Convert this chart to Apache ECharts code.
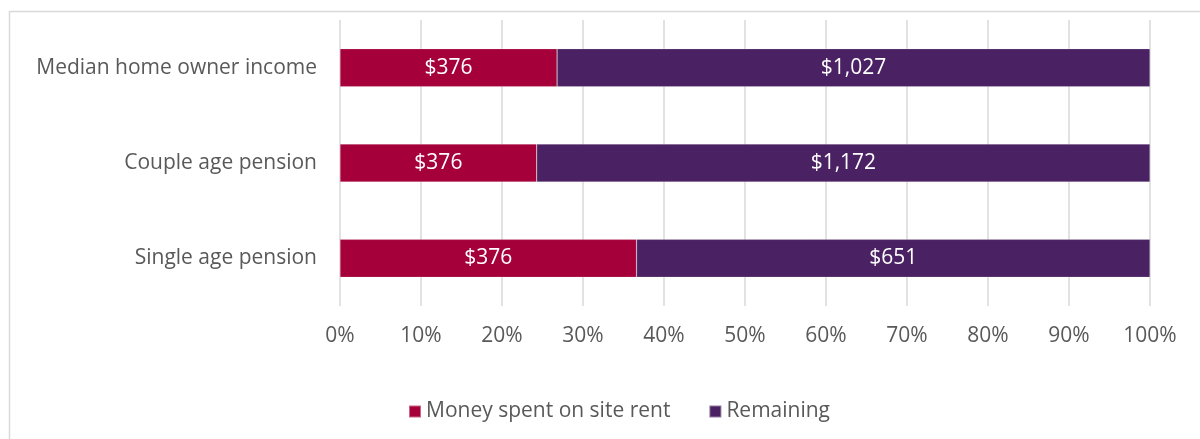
<!DOCTYPE html>
<html>
<head>
<meta charset="utf-8">
<script src="https://cdn.jsdelivr.net/npm/echarts@6/dist/echarts.min.js"></script>
<style>
  html, body { margin: 0; padding: 0; background: #fff; }
  #chart { width: 1200px; height: 439px; }
</style>
</head>
<body>
<div id="chart"></div>
<script>
const categories = ['Single age pension', 'Couple age pension', 'Median home owner income'];
const siteRent = [376, 376, 376];
const remaining = [651, 1172, 1027];
const seriesNames = ['Money spent on site rent', 'Remaining'];

const fmt = v => '$' + v.toLocaleString('en-US');
const share = (a, b) => a.map((v, i) => ({ value: v / (a[i] + b[i]) * 100, raw: v }));

document.addEventListener("DOMContentLoaded", () => {
    const font = "'Open Sans', sans-serif";
    echarts.init(document.querySelector("#chart")).setOption({
        animation: false,
        textStyle: { fontFamily: font },
        graphic: [{
            type: 'rect',
            shape: { x: 9.5, y: 11.5, width: 1200, height: 440 },
            style: { fill: 'none', stroke: '#d9d9d9', lineWidth: 1.5 }
        }],
        grid: { left: 340, right: 50, top: 20, bottom: 133 },
        legend: {
            left: 403,
            top: 396,
            itemWidth: 12,
            itemHeight: 12,
            itemGap: 38,
            icon: 'rect',
            textStyle: { fontSize: 21, color: '#595959', fontFamily: font }
        },
        xAxis: {
            type: 'value',
            min: 0,
            max: 100,
            interval: 10,
            axisLabel: { formatter: '{value}%', fontSize: 21, color: '#595959', margin: 20 },
            splitLine: { lineStyle: { color: '#d9d9d9', width: 1.5 } },
            axisLine: { show: false },
            axisTick: { show: false }
        },
        yAxis: {
            type: 'category',
            data: categories,
            axisLabel: { fontSize: 21, color: '#595959', margin: 23 },
            axisLine: { show: false },
            axisTick: { show: false }
        },
        series: [
            {
                name: seriesNames[0],
                type: 'bar',
                stack: 'total',
                barWidth: 38,
                data: share(siteRent, remaining),
                itemStyle: { color: '#a5003a', borderColor: 'rgba(255,255,255,0.4)', borderWidth: 0.5 },
                label: { show: true, color: '#fff', fontSize: 21, formatter: p => fmt(p.data.raw) }
            },
            {
                name: seriesNames[1],
                type: 'bar',
                stack: 'total',
                barWidth: 38,
                data: share(remaining, siteRent),
                itemStyle: { color: '#4a2162', borderColor: 'rgba(255,255,255,0.4)', borderWidth: 0.5 },
                label: { show: true, color: '#fff', fontSize: 21, formatter: p => fmt(p.data.raw) }
            }
        ]
    });
});
</script>
</body>
</html>
